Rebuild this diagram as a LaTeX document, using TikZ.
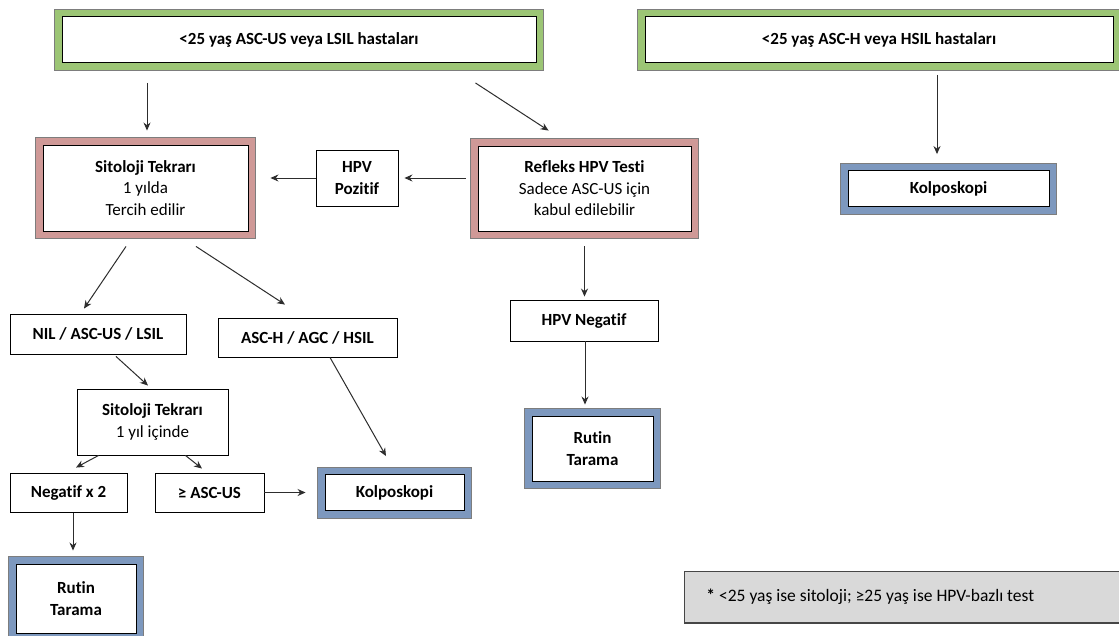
\documentclass[tikz,border=0pt]{standalone}
\usepackage{fontspec}
\setmainfont{Carlito}[Ligatures=NoCommon]
\usetikzlibrary{shadows,arrows.meta}

\definecolor{framegreen}{RGB}{156,197,117}
\definecolor{framerose}{RGB}{207,153,151}
\definecolor{frameblue}{RGB}{125,152,190}
\definecolor{edgegray}{RGB}{125,125,125}
\definecolor{notefill}{RGB}{217,217,217}
\definecolor{noteline}{RGB}{70,70,70}
\definecolor{arrowgray}{RGB}{45,45,45}

\tikzset{
  box/.style={draw=black, fill=white, line width=0.9pt, inner sep=0pt,
    align=center, font=\fontsize{17}{21.5}\selectfont},
  framed/.style={box,
    preaction={draw=edgegray, line width=16pt},
    preaction={draw=#1, line width=14pt}},
  arr/.style={draw=arrowgray, line width=1pt, -{Stealth[length=8pt,width=7pt]}},
}

\begin{document}
\begin{tikzpicture}[x=1pt, y=-1pt]
\useasboundingbox[fill=white] (0,0) rectangle (1119,635);

% entry groups
\node[framed=framegreen, minimum width=474pt, minimum height=46pt] (g1) at (299,39.5)
  {\bfseries <25 yaş ASC-US veya LSIL hastaları};
\node[framed=framegreen, minimum width=468pt, minimum height=46pt] (g2) at (879,39.5)
  {\bfseries <25 yaş ASC-H veya HSIL hastaları};

% first level
\node[framed=framerose, minimum width=205pt, minimum height=86pt] (s1) at (145.5,188)
  {\bfseries Sitoloji Tekrarı\\1 yılda\\Tercih edilir};
\node[box, minimum width=82pt, minimum height=56pt] (pos) at (357,178)
  {\bfseries HPV\\\bfseries Pozitif};
\node[framed=framerose, minimum width=213pt, minimum height=85pt] (ref) at (584.5,188.5)
  {\bfseries Refleks HPV Testi\\Sadece ASC-US için\\kabul edilebilir};
\node[framed=frameblue, minimum width=201pt, minimum height=36pt] (k1) at (948.5,188.5)
  {\bfseries Kolposkopi};

% second level
\node[box, minimum width=176pt, minimum height=40pt] (nil) at (98,334)
  {\bfseries NIL / ASC-US / LSIL};
\node[box, minimum width=179pt, minimum height=39pt] (asch) at (307.5,337.5)
  {\bfseries ASC-H / AGC / HSIL};
\node[box, minimum width=148pt, minimum height=41pt] (hneg) at (584,320.5)
  {\bfseries HPV Negatif};
\node[framed=frameblue, minimum width=121pt, minimum height=65pt] (r2) at (592.5,448.5)
  {\bfseries Rutin\\\bfseries Tarama};

% repeat cytology branch
\node[box, minimum width=151pt, minimum height=66pt] (s2) at (152.5,422)
  {\bfseries Sitoloji Tekrarı\\1 yıl içinde};
\node[box, minimum width=117pt, minimum height=39pt] (neg2) at (68.5,492.5)
  {\bfseries Negatif x 2};
\node[box, minimum width=109pt, minimum height=39pt] (geasc) at (209.5,492.5)
  {\bfseries ≥ ASC-US};
\node[framed=frameblue, minimum width=139pt, minimum height=36pt] (k2) at (394.5,492.5)
  {\bfseries Kolposkopi};
\node[framed=frameblue, minimum width=120pt, minimum height=69pt] (r1) at (76,598.5)
  {\bfseries Rutin\\\bfseries Tarama};

% footnote
\node[draw=noteline, fill=notefill, line width=0.9pt, minimum width=440pt, minimum height=51pt,
  anchor=north west, inner sep=0pt,
  font=\fontsize{17.5}{21}\selectfont,
  drop shadow={shadow xshift=0pt, shadow yshift=-1.6pt, fill=noteline, opacity=1}] (note) at (684,571)
  {\makebox[430pt][l]{\hspace*{17pt}\textbf{*} <25 yaş ise sitoloji; ≥25 yaş ise HPV-bazlı test}};

% connectors
\draw[arr] ([xshift=-152pt,yshift=-20pt]g1.south) -- ([xshift=1.5pt,yshift=14pt]s1.north);
\draw[arr] ([xshift=-61pt,yshift=-20pt]g1.south east) -- ([xshift=71pt,yshift=15pt]ref.north west);
\draw[arr] ([xshift=58pt,yshift=-12pt]g2.south) -- ([xshift=-11.5pt,yshift=16pt]k1.north);
\draw[arr] (pos.west) -- ([xshift=22pt]s1.east |- pos.west);
\draw[arr] ([xshift=-12pt]ref.west |- pos.east) -- ([xshift=6pt]pos.east);
\draw[arr] ([xshift=-19.5pt,yshift=-15pt]s1.south) -- ([xshift=-14pt,yshift=5pt]nil.north);
\draw[arr] ([xshift=50.5pt,yshift=-15pt]s1.south) -- ([xshift=-22.5pt,yshift=13pt]asch.north);
\draw[arr] ([yshift=-15pt]ref.south) -- ([xshift=0.5pt,yshift=3pt]hneg.north);
\draw[arr] ([xshift=1pt]hneg.south) -- ([xshift=-7.5pt,yshift=11pt]r2.north);
\draw[arr] ([xshift=18pt,yshift=-2pt]nil.south) -- ([xshift=-4.5pt,yshift=3pt]s2.north);
\draw[arr] ([xshift=22.5pt]asch.south) -- ([xshift=-8.5pt,yshift=18pt]k2.north);
\draw[arr] ([xshift=22pt]s2.south west) -- ([xshift=7.5pt,yshift=5pt]neg2.north);
\draw[arr] ([xshift=-43pt]s2.south east) -- ([xshift=-7.5pt,yshift=4pt]geasc.north);
\draw[arr] (geasc.east) -- ([xshift=-19pt]k2.west);
\draw[arr] ([xshift=4.5pt,yshift=-1pt]neg2.south) -- ([xshift=-3pt,yshift=13pt]r1.north);
\end{tikzpicture}
\end{document}
